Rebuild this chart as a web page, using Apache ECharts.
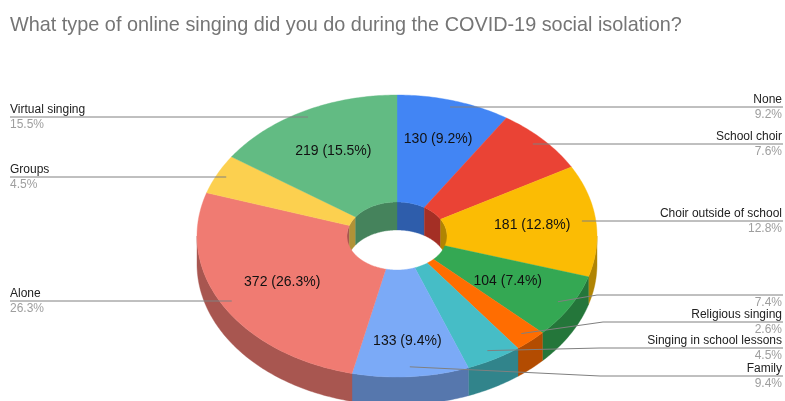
<!DOCTYPE html>
<html>
<head>
<meta charset="utf-8">
<style>html,body{margin:0;padding:0;background:#fff}#c{width:785px;height:401px}</style>
<script src="https://cdn.jsdelivr.net/npm/echarts@6/dist/echarts.min.js"></script>
</head>
<body>
<div id="c"></div>
<script>
const titleText = 'What type of online singing did you do during the COVID-19 social isolation?';
const categories = ['None','School choir','Choir outside of school','','Religious singing','Singing in school lessons','Family','Alone','Groups','Virtual singing'];
const values = [130,108,181,104,37,64,133,372,64,219];
const percentLabels = ['9.2%','7.6%','12.8%','7.4%','2.6%','4.5%','9.4%','26.3%','4.5%','15.5%'];
const showInSlice = [true,false,true,true,false,false,true,true,false,true];
const colors = ['#4285f4','#ea4335','#fbbc04','#34a853','#ff6d01','#46bdc6','#7baaf7','#f07b72','#fcd04f','#62bb83'];

// Layout of the tilted doughnut and its callouts
const CX = 397, CY = 236, RX = 200, RY = 141, IRX = 50, IRY = 34, DEPTH = 28;
const calloutY = [107,144,221,295,322,348,376,301,177,117];
const calloutElbowX = [null,null,null,597,603,600,600,null,null,null];
const labelFrac = [0.72,0.68,0.68,0.64,0.68,0.68,0.75,0.66,0.68,0.68];

const total = values.reduce((a, b) => a + b, 0);
const starts = [];
values.reduce((acc, v, i) => { starts[i] = acc; return acc + v; }, 0);
const ang = v => v / total * 2 * Math.PI;
const pt = (a, rx, ry, dy) => [CX + rx * Math.sin(a), CY - ry * Math.cos(a) + (dy || 0)];
function arc(a0, a1, rx, ry, dy) {
  const n = Math.max(2, Math.ceil((a1 - a0) / 0.015));
  const out = [];
  for (let k = 0; k <= n; k++) out.push(pt(a0 + (a1 - a0) * k / n, rx, ry, dy));
  return out;
}
function darken(hex, f) {
  const n = parseInt(hex.slice(1), 16);
  const c = [n >> 16 & 255, n >> 8 & 255, n & 255].map(x => Math.round(x * f));
  return 'rgb(' + c.join(',') + ')';
}
function poly(points, fill) {
  return { type: 'polygon', shape: { points }, style: { fill, stroke: fill, lineWidth: 0.4 } };
}
function wallRange(a0, a1, lo, hi, rx, ry, fill) {
  const s = Math.max(a0, lo), e = Math.min(a1, hi);
  if (e <= s) return null;
  return poly(arc(s, e, rx, ry, 0).concat(arc(s, e, rx, ry, DEPTH).reverse()), fill);
}
const P = Math.PI;

function renderWalls(params, api) {
  const i = api.value(0);
  const a0 = ang(starts[i]), a1 = ang(starts[i] + values[i]);
  const fill = darken(colors[i], 0.7);
  const kids = [
    wallRange(a0, a1, P / 2, 1.5 * P, RX, RY, fill),
    wallRange(a0, a1, 0, P / 2, IRX, IRY, fill),
    wallRange(a0, a1, 1.5 * P, 2 * P, IRX, IRY, fill)
  ].filter(Boolean);
  return { type: 'group', children: kids };
}
function renderTop(params, api) {
  const i = api.value(0);
  const a0 = ang(starts[i]), a1 = ang(starts[i] + values[i]);
  return poly(arc(a0, a1, RX, RY).concat(arc(a0, a1, IRX, IRY).reverse()), colors[i]);
}
function renderCallouts(params, api) {
  const i = api.value(0);
  const mid = ang(starts[i] + values[i] / 2);
  const left = mid > P;
  const y = calloutY[i];
  const edgeX = left ? 10 : 783;
  const tipFrac = left ? 0.95 : 0.93;
  const tip = pt(mid, RX * tipFrac, RY * tipFrac);
  const pts = [[edgeX, y]];
  if (calloutElbowX[i] !== null) pts.push([calloutElbowX[i], y], tip);
  else pts.push([tip[0], y]);
  const textX = left ? 10 : 782;
  const align = left ? 'left' : 'right';
  const kids = [
    { type: 'polyline', shape: { points: pts }, style: { fill: 'none', stroke: '#808080', lineWidth: 1 } },
    { type: 'text', style: { x: textX, y: y - 7.5, text: categories[i], fill: '#222222', font: '12px "Liberation Sans", Arial, sans-serif', textAlign: align, textVerticalAlign: 'middle' } },
    { type: 'text', style: { x: textX, y: y + 7.5, text: percentLabels[i], fill: '#9e9e9e', font: '12px "Liberation Sans", Arial, sans-serif', textAlign: align, textVerticalAlign: 'middle' } }
  ];
  if (showInSlice[i]) {
    const c = pt(mid, RX * labelFrac[i], RY * labelFrac[i]);
    kids.push({ type: 'text', style: { x: c[0], y: c[1], text: values[i] + ' (' + percentLabels[i] + ')', fill: '#111111', font: '14px "Liberation Sans", Arial, sans-serif', textAlign: 'center', textVerticalAlign: 'middle' } });
  }
  return { type: 'group', children: kids };
}

const rows = values.map((v, i) => [i, v]);
const chart = echarts.init(document.getElementById('c'), null, { renderer: 'canvas' });
chart.setOption({
  animation: false,
  backgroundColor: '#ffffff',
  title: { text: titleText, left: 10, top: 16, padding: 0, textStyle: { color: '#757575', fontSize: 19.85, fontWeight: 'normal', fontFamily: '"Liberation Sans", Arial, sans-serif' } },
  series: [
    { type: 'custom', coordinateSystem: 'none', silent: true, z: 1, data: rows, renderItem: renderWalls },
    { type: 'custom', coordinateSystem: 'none', silent: true, z: 2, data: rows, renderItem: renderTop },
    { type: 'custom', coordinateSystem: 'none', silent: true, z: 3, data: rows, renderItem: renderCallouts }
  ]
});
</script>
</body>
</html>
